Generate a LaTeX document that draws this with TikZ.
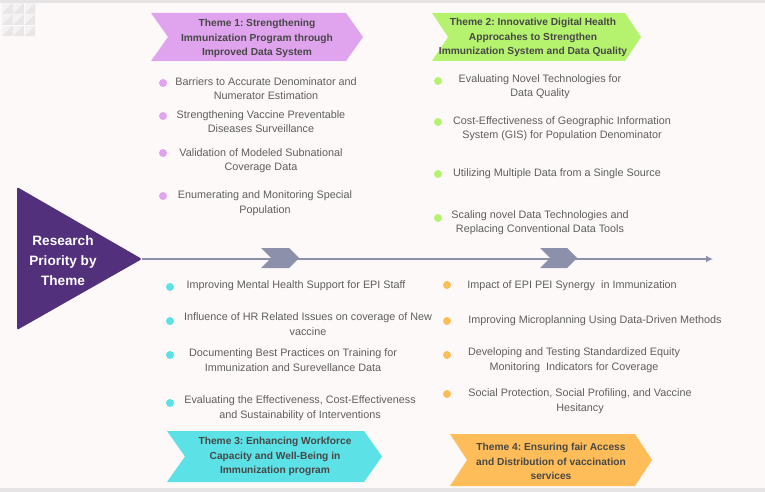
\documentclass[tikz,border=0pt]{standalone}
\usepackage{fontspec}
\setmainfont{Liberation Sans}
\usetikzlibrary{arrows.meta}
\frenchspacing

\begin{document}
\begin{tikzpicture}[
    x=1pt, y=-1pt,
    every node/.style={font=\rmfamily},
]

% ---------------------------------------------------------------- colours
\definecolor{bgcol}{HTML}{FDF9F8}     % the page
\definecolor{edgecol}{HTML}{E6E4E4}   % frame strips top and bottom
\definecolor{tileA}{HTML}{F4F2F2}
\definecolor{tileB}{HTML}{E8E6E6}
\definecolor{hubcol}{HTML}{52307C}    % the purple triangle
\definecolor{spinecol}{HTML}{8C90AA}  % the long arrow
\definecolor{thmA}{HTML}{E0A4EE}
\definecolor{thmB}{HTML}{B5F36F}
\definecolor{thmC}{HTML}{5CE1E6}
\definecolor{thmD}{HTML}{FFBD59}
\definecolor{bodytext}{HTML}{5E5E5E}
\definecolor{headtext}{HTML}{474747}

% ================================================================
% Units are pixels of the 765 x 492 target, y counted downwards.
%
%   hub triangle  (17,187) (17,330) tip (142,259)
%   spine y = 259, from the tip to x = 713, two markers on it
%   banners: theme 1 and 2 on top (y 13..61), 3 and 4 below (y 431..486)
%   bullets in four columns: x = 163, 438 (above), 170, 447 (below)
% ================================================================

\tikzset{
    dot/.style={circle, inner sep=0pt, minimum size=8pt},
    item/.style={font=\fontsize{10.8}{14.5}\selectfont, text=bodytext,
        align=center, inner sep=0pt},
    head/.style={font=\fontsize{10.2}{14.5}\selectfont\bfseries, text=headtext,
        align=center, inner sep=0pt},
    hubtext/.style={font=\fontsize{13.6}{20}\selectfont\bfseries, text=white,
        align=center, inner sep=0pt},
    spine/.style={draw=spinecol, line width=2pt,
        -{Latex[length=7pt, width=7pt]}},
}

% notched ribbon: colour, left, right, top, bottom, depth of notch and point
\newcommand{\ribbonpath}[6]{%
    \fill[#1] (#2,#4) -- ({#3-#6},#4) -- (#3,{(#4+#5)/2})
        -- ({#3-#6},#5) -- (#2,#5) -- ({#2+#6},{(#4+#5)/2}) -- cycle;}

% ================================================================ page
\useasboundingbox (0,0) rectangle (765,492);
\fill[bgcol] (0,0) rectangle (765,492);
\fill[edgecol] (0,0) rectangle (765,3);
\fill[edgecol] (0,488) rectangle (765,492);

% faint tile pattern, top left corner
\foreach \r in {0,1,2} {
    \foreach \c in {0,1,2} {
        \pgfmathsetmacro{\tx}{2+11.3*\c}
        \pgfmathsetmacro{\ty}{3+11.3*\r}
        \fill[tileA] (\tx,\ty) rectangle ++(10.6,10.6);
        \fill[tileB] (\tx+10.6,\ty) -- ++(0,10.6) -- ++(-10.6,0) -- cycle;
    }
}

% ================================================================ hub + spine
\fill[hubcol, rounded corners=1.5pt] (17,187) -- (142,259) -- (17,330) -- cycle;
\node[hubtext] (hub) at (63,261) {Research\\Priority by\\Theme};

\coordinate (hubtip) at (142,259);
\coordinate (spineend) at (713,259);
\draw[spine] (hubtip) -- (spineend);

\ribbonpath{spinecol}{261}{299}{248}{268}{10}
\ribbonpath{spinecol}{540}{577}{248}{268}{10}

% ================================================================ banners
\ribbonpath{thmA}{151}{363}{13}{61}{17}
\node[head] (theme1) at (257,38.5)
    {Theme 1: Strengthening\\Immunization Program through\\Improved Data System};

\ribbonpath{thmB}{432}{641}{13}{61}{16}
\node[head] (theme2) at (533,37.5)
    {Theme 2: Innovative Digital Health\\Approcahes to Strengthen\\Immunization System and Data Quality};

\ribbonpath{thmC}{167}{382}{431}{482}{18}
\node[head] (theme3) at (275,456.5)
    {Theme 3: Enhancing Workforce\\Capacity and Well-Being in\\Immunization program};

\ribbonpath{thmD}{450}{652}{434}{486}{17}
\node[head] (theme4) at (551,461.5)
    {Theme 4: Ensuring fair Access\\and Distribution of vaccination\\services};

% ================================================================ theme 1 items
\foreach \i/\dy/\tx/\ty/\txt in {
    1/83/266/88.5/{Barriers to Accurate Denominator and\\Numerator Estimation},
    2/116/261/121.5/{Strengthening Vaccine Preventable\\Diseases Surveillance},
    3/153/261/160.5/{Validation of Modeled Subnational\\Coverage Data},
    4/196/265/203/{Enumerating and Monitoring Special\\Population}} {
    \node[dot, fill=thmA] (t1dot\i) at (163,\dy) {};
    \node[item] (t1item\i) at (\tx,\ty) {\txt};
}

% ================================================================ theme 2 items
\foreach \i/\dy/\tx/\ty/\txt in {
    1/81/540/86.5/{Evaluating Novel Technologies for\\Data Quality},
    2/122/562/128.5/{Cost-Effectiveness of Geographic Information\\System (GIS) for Population Denominator},
    3/174/557/174/{Utilizing Multiple Data from a Single Source},
    4/218/540/222.5/{Scaling novel Data Technologies and\\Replacing Conventional Data Tools}} {
    \node[dot, fill=thmB] (t2dot\i) at (438,\dy) {};
    \node[item] (t2item\i) at (\tx,\ty) {\txt};
}

% ================================================================ theme 3 items
\foreach \i/\dy/\tx/\ty/\txt in {
    1/287/296/285.5/{Improving Mental Health Support for EPI Staff},
    2/321/308/324/{Influence of HR Related Issues on coverage of New\\vaccine},
    3/355/293/360/{Documenting Best Practices on Training for\\Immunization and Surevellance Data},
    4/403/300/408/{Evaluating the Effectiveness, Cost-Effectiveness\\and Sustainability of Interventions}} {
    \node[dot, fill=thmC] (t3dot\i) at (170,\dy) {};
    \node[item] (t3item\i) at (\tx,\ty) {\txt};
}

% ================================================================ theme 4 items
\foreach \i/\dy/\tx/\ty/\txt in {
    1/285/572/285.5/{Impact of EPI PEI Synergy\ \ in Immunization},
    2/321/595/320.5/{Improving Microplanning Using Data-Driven Methods},
    3/355/574/360/{Developing and Testing Standardized Equity\\Monitoring\ \ Indicators for Coverage},
    4/394/580/401/{Social Protection, Social Profiling, and Vaccine\\Hesitancy}} {
    \node[dot, fill=thmD] (t4dot\i) at (447,\dy) {};
    \node[item] (t4item\i) at (\tx,\ty) {\txt};
}

\end{tikzpicture}
\end{document}
